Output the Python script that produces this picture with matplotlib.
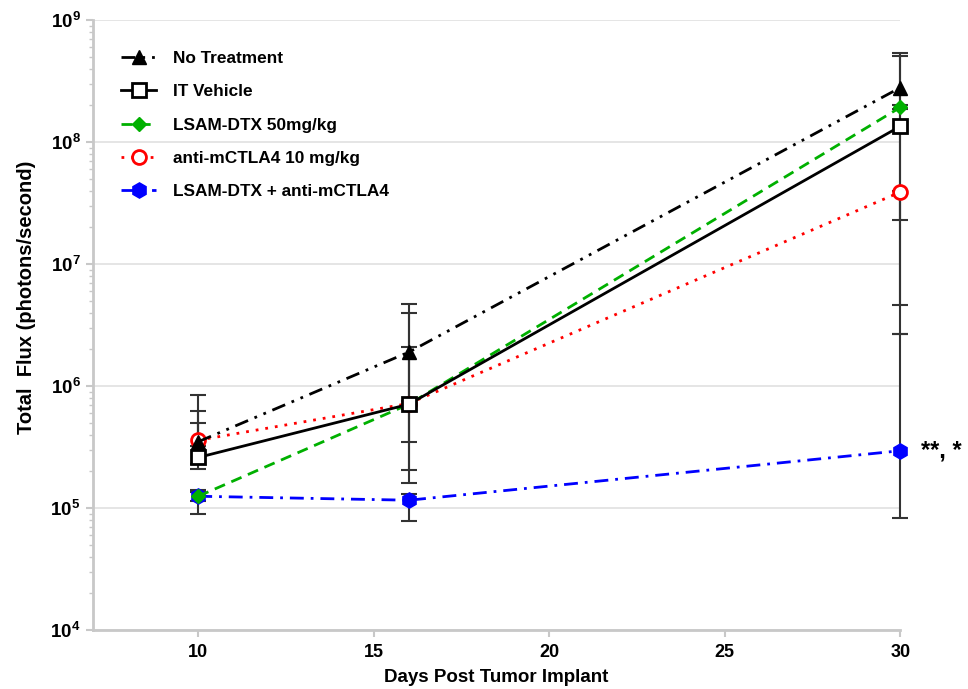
import numpy as np
import matplotlib
matplotlib.use('Agg')
import matplotlib.pyplot as plt
from matplotlib.ticker import LogLocator, NullFormatter, FixedLocator

plt.rcParams['font.family'] = ['Liberation Sans', 'DejaVu Sans']
plt.rcParams['font.weight'] = 'bold'
plt.rcParams['mathtext.fontset'] = 'custom'
plt.rcParams['mathtext.rm'] = 'Liberation Sans:bold'
plt.rcParams['mathtext.bf'] = 'Liberation Sans:bold'
plt.rcParams['mathtext.default'] = 'bf'

days = [10, 16, 30]

labels = ['No Treatment', 'IT Vehicle', 'LSAM-DTX 50mg/kg',
          'anti-mCTLA4 10 mg/kg', 'LSAM-DTX + anti-mCTLA4']

no_treat = [3.5e5, 1.9e6, 2.8e8]
no_treat_lo = [2.08e5, 3.47e5, 2.3e7]
no_treat_hi = [5.0e5, 4.73e6, 5.35e8]

it_vehicle = [2.6e5, 7.1e5, 1.35e8]
it_vehicle_lo = [2.3e5, 2.05e5, 4.6e6]
it_vehicle_hi = [6.2e5, 4.0e6, 5.06e8]

lsam = [1.25e5, 7.1e5, 1.93e8]
lsam_lo = [8.9e4, 1.6e5, 1.86e8]
lsam_hi = [1.4e5, 2.1e6, 2.0e8]

ctla4 = [3.6e5, 7.2e5, 3.9e7]
ctla4_lo = [3.2e5, 6.5e5, 2.7e6]
ctla4_hi = [8.45e5, 7.6e5, 4.0e7]

combo = [1.25e5, 1.16e5, 2.95e5]
combo_lo = [1.15e5, 7.9e4, 8.3e4]
combo_hi = [1.35e5, 1.3e5, 2.7e6]

fig = plt.figure(figsize=(9.68, 6.89), dpi=100)
ax = fig.add_axes([0.096, 0.0856, 0.834, 0.885])

series = [
    (no_treat, no_treat_lo, no_treat_hi, dict(color='black', linestyle=(0, (5, 2.5, 1, 2.5, 1, 2.5)),
                                              marker='^', markersize=10, markerfacecolor='black',
                                              markeredgecolor='black')),
    (it_vehicle, it_vehicle_lo, it_vehicle_hi, dict(color='black', linestyle='-', marker='s',
                                                    markersize=10, markerfacecolor='white',
                                                    markeredgecolor='black', markeredgewidth=2)),
    (lsam, lsam_lo, lsam_hi, dict(color='#00b000', linestyle=(0, (4, 2.5)), marker='D',
                                  markersize=7, markerfacecolor='#00b000', markeredgecolor='#00b000')),
    (ctla4, ctla4_lo, ctla4_hi, dict(color='#ff0000', linestyle=(0, (1, 2.5)), marker='o',
                                     markersize=10, markerfacecolor='white', markeredgecolor='#ff0000',
                                     markeredgewidth=2)),
    (combo, combo_lo, combo_hi, dict(color='#0000ff', linestyle=(0, (5, 2.5, 1, 2.5)), marker='h',
                                     markersize=11, markerfacecolor='#0000ff', markeredgecolor='#0000ff')),
]

# first series on top, as in the original figure
n = len(series)
for i, ((vals, lo, hi, style), lab) in enumerate(zip(series, labels)):
    vals = np.array(vals)
    err = [vals - np.array(lo), np.array(hi) - vals]
    ax.errorbar(days, vals, yerr=err, fmt='none', ecolor='#333333', elinewidth=1.5,
                capsize=6, capthick=1.5, zorder=2, clip_on=False)
    ax.plot(days, vals, linewidth=2, label=lab, zorder=3 + (n - i) * 0.1, clip_on=False, **style)

ax.set_yscale('log')
ax.set_ylim(1e4, 1e9)
ax.set_xlim(7, 30)

ax.yaxis.set_major_locator(LogLocator(base=10, numticks=10))
ax.yaxis.set_minor_locator(LogLocator(base=10, subs=np.arange(2, 10), numticks=20))
ax.yaxis.set_minor_formatter(NullFormatter())
ax.set_yticks([1e4, 1e5, 1e6, 1e7, 1e8, 1e9])
ax.set_yticklabels([r'$10^{%d}$' % k for k in range(4, 10)])
ax.xaxis.set_major_locator(FixedLocator([10, 15, 20, 25, 30]))

ax.grid(axis='y', which='major', color='#e0e0e0', linewidth=1.2, zorder=0)
ax.set_axisbelow(True)

for s in ['top', 'right']:
    ax.spines[s].set_visible(False)
for s in ['left', 'bottom']:
    ax.spines[s].set_color('#c8c8c8')
    ax.spines[s].set_linewidth(2)

ax.tick_params(axis='both', which='major', colors='#c8c8c8', labelcolor='black',
               length=5, width=1.5)
ax.tick_params(axis='y', which='major', labelsize=13.5, pad=4)
ax.tick_params(axis='x', which='major', labelsize=13, pad=5)
ax.tick_params(axis='y', which='minor', colors='#c8c8c8', length=3, width=1)

ax.set_xlabel('Days Post Tumor Implant', fontsize=13.5, fontweight='bold', labelpad=6)
ax.set_ylabel('Total  Flux (photons/second)', fontsize=14.5, fontweight='bold')
ax.yaxis.set_label_coords(-0.07, 0.545)

ax.text(30.6, 2.95e5, '**, *', fontsize=17, fontweight='bold', va='center', ha='left',
        clip_on=False)

leg = ax.legend(loc='upper left', bbox_to_anchor=(0.016, 0.975), frameon=False,
                fontsize=12.4, handlelength=2.0, labelspacing=1.06, handletextpad=1.0)

fig.savefig('out.png', dpi=100)
